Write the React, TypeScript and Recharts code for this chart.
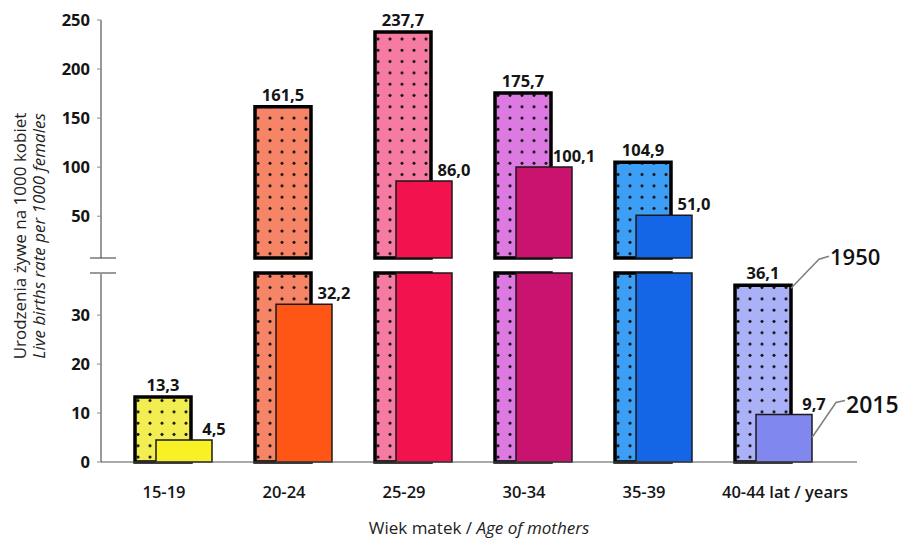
import React from 'react';
import { BarChart, Bar, XAxis, YAxis, Cell, LabelList, Label } from 'recharts';

// ---- data ----
const categories = ['15-19', '20-24', '25-29', '30-34', '35-39', '40-44'];
const tickLabels = ['15-19', '20-24', '25-29', '30-34', '35-39', '40-44 lat / years'];
const births1950 = [13.3, 161.5, 237.7, 175.7, 104.9, 36.1];
const births2015 = [4.5, 32.2, 86.0, 100.1, 51.0, 9.7];
const seriesNames = ['1950', '2015'];
const upperTicks = [50, 100, 150, 200, 250];
const lowerTicks = [0, 10, 20, 30];
const colors1950 = ['#f2ee52', '#f68466', '#f57ba2', '#dc7ae2', '#3d9ef5', '#abb1f6'];
const colors2015 = ['#f7f126', '#ff5616', '#f2124e', '#c9136f', '#1566e6', '#8087ef'];

// broken axis: lower part 0..LOWER_MAX, upper part UPPER_MIN..UPPER_MAX
const LOWER_MAX = 38.6;
const UPPER_MIN = 7.4;
const UPPER_MAX = 250;

const rows = categories.map((cat, i) => ({
  cat,
  tick: tickLabels[i],
  hi1950: births1950[i] > LOWER_MAX ? births1950[i] : null,
  lo1950: Math.min(births1950[i], LOWER_MAX),
  hi2015: births2015[i] > LOWER_MAX ? births2015[i] : null,
  lo2015: Math.min(births2015[i], LOWER_MAX),
  labLo1950: births1950[i] <= LOWER_MAX ? births1950[i] : null,
  labLo2015: births2015[i] <= LOWER_MAX ? births2015[i] : null,
}));

const FONT = '"Open Sans", "Noto Sans", sans-serif';
const W = 904;
const H = 541;
const MARGIN_LEFT = 41;
const MARGIN_RIGHT = 47;
const Y_WIDTH = 60;
const X_PADDING = { left: 12, right: 24 };
const BAR_SIZE = 56;
const BAR_GAP = -35;

const fmt = (v: number) => v.toFixed(1).replace('.', ',');

const geom = (p: any) => {
  const vb = p.viewBox && p.viewBox.width !== undefined ? p.viewBox : p;
  return { x: Number(vb.x), y: Number(vb.y), width: Number(vb.width), height: Number(vb.height) };
};

const label1950 = (p: any) => {
  if (p.value == null) return null;
  const g = geom(p);
  return (
    <text x={g.x + g.width / 2} y={g.y - 6} textAnchor="middle" fontFamily={FONT} fontWeight={700} fontSize={16.5} fill="#151515">
      {fmt(Number(p.value))}
    </text>
  );
};

const label2015 = (p: any) => {
  if (p.value == null) return null;
  const g = geom(p);
  return (
    <text x={g.x + g.width + 2} y={g.y - 5} textAnchor="middle" fontFamily={FONT} fontWeight={700} fontSize={16.5} fill="#151515">
      {fmt(Number(p.value))}
    </text>
  );
};

const legend1950 = (p: any) => {
  if (p.index !== categories.length - 1) return null;
  const g = geom(p);
  const r = g.x + g.width;
  return (
    <g>
      <polyline points={`${r},${g.y + 3} ${r + 28},${g.y - 26} ${r + 38},${g.y - 29}`} fill="none" stroke="#808080" strokeWidth={1.5} />
      <text x={r + 39} y={g.y - 20} fontFamily={FONT} fontWeight={600} fontSize={22} fill="#111">
        {seriesNames[0]}
      </text>
    </g>
  );
};

const legend2015 = (p: any) => {
  if (p.index !== categories.length - 1) return null;
  const g = geom(p);
  const r = g.x + g.width;
  return (
    <g>
      <polyline points={`${r},${g.y + 23} ${r + 24},${g.y - 12} ${r + 33},${g.y - 14}`} fill="none" stroke="#808080" strokeWidth={1.5} />
      <text x={r + 34} y={g.y - 2} fontFamily={FONT} fontWeight={600} fontSize={23} fill="#111">
        {seriesNames[1]}
      </text>
    </g>
  );
};

const yTitle = (p: any) => {
  const vb = p.viewBox || {};
  const axisX = vb.x + vb.width;
  const top = vb.y;
  const cy = top - 37;
  const x1 = axisX - 82;
  const x2 = axisX - 63;
  return (
    <g>
      <line x1={axisX - 11} x2={axisX + 15} y1={top} y2={top} stroke="#9a9a9a" strokeWidth={2} />
      <line x1={axisX - 11} x2={axisX + 15} y1={top - 15} y2={top - 15} stroke="#9a9a9a" strokeWidth={2} />
      <text x={x1} y={cy} transform={`rotate(-90 ${x1} ${cy})`} textAnchor="middle" dominantBaseline="central" fontFamily={FONT} fontSize={17} fill="#222">
        Urodzenia żywe na 1000 kobiet
      </text>
      <text x={x2} y={cy} transform={`rotate(-90 ${x2} ${cy})`} textAnchor="middle" dominantBaseline="central" fontFamily={FONT} fontSize={17} fontStyle="italic" fill="#222">
        Live births rate per 1000 females
      </text>
    </g>
  );
};

const xTitle = (p: any) => {
  const vb = p.viewBox || {};
  const cx = vb.x + vb.width / 2;
  return (
    <text x={cx} y={vb.y + 72} textAnchor="middle" fontFamily={FONT} fontSize={17} fill="#222">
      Wiek matek / <tspan fontStyle="italic">Age of mothers</tspan>
    </text>
  );
};

const XTick = (p: any) => {
  const idx = p.index;
  const text = tickLabels[idx] ?? p.payload?.value;
  const last = idx === categories.length - 1;
  return (
    <text
      x={last ? p.x - 51 : p.x - 9}
      y={p.y}
      dy="0.71em"
      textAnchor={last ? 'start' : 'middle'}
      fontFamily={FONT}
      fontWeight={600}
      fontSize={16.5}
      fill="#151515"
    >
      {text}
    </text>
  );
};

const Patterns = ({ prefix }: { prefix: string }) => (
  <defs>
    {colors1950.map((c, i) => (
      <pattern key={i} id={`${prefix}${i}`} patternUnits="userSpaceOnUse" x={0} y={0} width={12} height={11.3}>
        <rect x={0} y={0} width={12} height={11.3} fill={c} />
        <circle cx={6} cy={5} r={1.5} fill="#111" />
      </pattern>
    ))}
  </defs>
);

const yTick = { fill: '#151515', fontSize: 16.5, fontWeight: 700, fontFamily: FONT };

export default function App() {
  return (
    <div style={{ position: 'absolute', left: 0, top: 0, width: W, height: H, background: '#fff' }}>
      {/* lower part of the broken axis */}
      <div style={{ position: 'absolute', left: 0, top: 0 }}>
        <BarChart
          width={W}
          height={H}
          data={rows}
          barGap={BAR_GAP}
          margin={{ top: 273, right: MARGIN_RIGHT, bottom: 0, left: MARGIN_LEFT }}
        >
          <Patterns prefix="lo-dots" />
          <XAxis
            dataKey="cat"
            type="category"
            interval={0}
            height={79}
            padding={X_PADDING}
            tickLine={false}
            tickSize={0}
            tickMargin={24}
            axisLine={{ stroke: '#555', strokeWidth: 1 }}
            tick={<XTick />}
          >
            <Label content={xTitle} />
          </XAxis>
          <YAxis
            type="number"
            domain={[0, LOWER_MAX]}
            ticks={lowerTicks}
            width={Y_WIDTH}
            tickSize={4}
            tickMargin={7}
            axisLine={{ stroke: '#334', strokeWidth: 1 }}
            tickLine={{ stroke: '#888' }}
            tick={yTick}
          >
            <Label content={yTitle} />
          </YAxis>
          <Bar dataKey="lo1950" barSize={BAR_SIZE} stroke="#000" strokeWidth={3.5} isAnimationActive={false}>
            {rows.map((r, i) => (
              <Cell key={i} fill={`url(#lo-dots${i})`} />
            ))}
            <LabelList dataKey="labLo1950" content={label1950} />
            <LabelList dataKey="lo1950" content={legend1950} />
          </Bar>
          <Bar dataKey="lo2015" barSize={BAR_SIZE} stroke="#1a1a1a" strokeWidth={1.5} isAnimationActive={false}>
            {rows.map((r, i) => (
              <Cell key={i} fill={colors2015[i]} />
            ))}
            <LabelList dataKey="labLo2015" content={label2015} />
            <LabelList dataKey="lo2015" content={legend2015} />
          </Bar>
        </BarChart>
      </div>
      {/* upper part of the broken axis */}
      <div style={{ position: 'absolute', left: 0, top: 0, pointerEvents: 'none' }}>
        <BarChart
          width={W}
          height={H}
          data={rows}
          barGap={BAR_GAP}
          margin={{ top: 20, right: MARGIN_RIGHT, bottom: H - 258, left: MARGIN_LEFT }}
        >
          <Patterns prefix="up-dots" />
          <XAxis dataKey="cat" type="category" hide padding={X_PADDING} />
          <YAxis
            type="number"
            domain={[UPPER_MIN, UPPER_MAX]}
            ticks={upperTicks}
            width={Y_WIDTH}
            tickSize={4}
            tickMargin={7}
            axisLine={{ stroke: '#334', strokeWidth: 1 }}
            tickLine={{ stroke: '#888' }}
            tick={yTick}
          />
          <Bar dataKey="hi1950" barSize={BAR_SIZE} stroke="#000" strokeWidth={3.5} isAnimationActive={false}>
            {rows.map((r, i) => (
              <Cell key={i} fill={`url(#up-dots${i})`} />
            ))}
            <LabelList dataKey="hi1950" content={label1950} />
          </Bar>
          <Bar dataKey="hi2015" barSize={BAR_SIZE} stroke="#1a1a1a" strokeWidth={1.5} isAnimationActive={false}>
            {rows.map((r, i) => (
              <Cell key={i} fill={colors2015[i]} />
            ))}
            <LabelList dataKey="hi2015" content={label2015} />
          </Bar>
        </BarChart>
      </div>
    </div>
  );
}
